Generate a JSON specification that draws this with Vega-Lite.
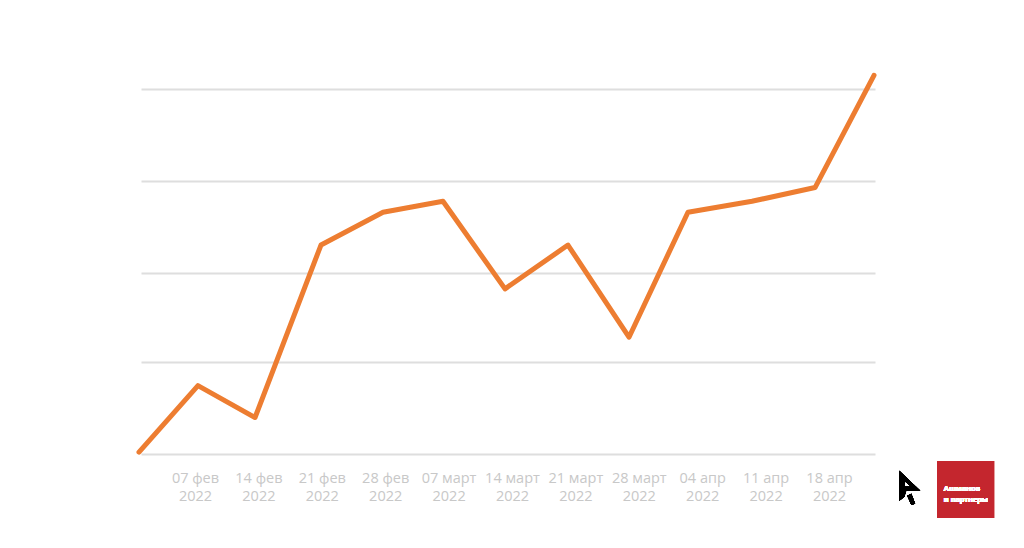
{
"$schema":"https://vega.github.io/schema/vega-lite/v6.json",
"width":734,"height":394,
"autosize":"none",
"padding":{"left":141,"top":60,"right":149,"bottom":94},
"background":"white",
"config":{"view":{"stroke":null},"font":"Open Sans"},
"data":{"values":[
{"date":"2022-01-31T22:19:00Z","value":2},
{"date":"2022-02-07T10:34:00Z","value":75},
{"date":"2022-02-13T17:46:00Z","value":40},
{"date":"2022-02-21T00:29:00Z","value":229},
{"date":"2022-02-27T20:53:00Z","value":265},
{"date":"2022-03-06T11:46:00Z","value":277},
{"date":"2022-03-13T08:10:00Z","value":181},
{"date":"2022-03-20T06:58:00Z","value":229},
{"date":"2022-03-27T00:43:00Z","value":128},
{"date":"2022-04-02T12:58:00Z","value":265},
{"date":"2022-04-09T14:38:00Z","value":277},
{"date":"2022-04-16T13:41:00Z","value":292},
{"date":"2022-04-23T01:55:00Z","value":415}
]},
"layer":[
{"mark":{"type":"line","color":"#ed7d31","strokeWidth":5,"strokeCap":"round","strokeJoin":"round","clip":false},
"encoding":{
"x":{"field":"date","type":"temporal","title":null,
"scale":{"type":"utc","domain":["2022-02-01T03:36:00Z","2022-04-23T04:34:00Z"],"nice":false},
"axis":{"values":["2022-02-07T00:00:00Z","2022-02-14T00:00:00Z","2022-02-21T00:00:00Z","2022-02-28T00:00:00Z","2022-03-07T00:00:00Z","2022-03-14T00:00:00Z","2022-03-21T00:00:00Z","2022-03-28T00:00:00Z","2022-04-04T00:00:00Z","2022-04-11T00:00:00Z","2022-04-18T00:00:00Z"],
"grid":false,"ticks":false,"domain":false,"labelColor":"#c8c8c8","labelFontSize":14.5,"labelPadding":17,"labelLineHeight":18,"labelOverlap":false,"labelFlush":false,"labelAngle":0,"labelOffset":1,
"labelExpr":"[utcFormat(datum.value,'%d')+' '+['','фев','март','апр'][utcmonth(datum.value)],'2022']"}},
"y":{"field":"value","type":"quantitative","title":null,
"scale":{"domain":[0,431.8],"nice":false,"zero":false},
"axis":{"values":[0,100.8,198.4,299,400],"grid":true,"gridColor":"#dedede","gridWidth":2,"ticks":false,"domain":false,"labels":false}}
}},
{"mark":{"type":"rect","color":"#c4262e","clip":false},
"encoding":{
"x":{"datum":{"year":2022,"month":4,"date":30,"hours":1,"utc":true},"type":"temporal"},
"x2":{"datum":{"year":2022,"month":5,"date":6,"hours":8,"utc":true}},
"y":{"datum":-7.7,"type":"quantitative"},
"y2":{"datum":-70.1}
}},
{"mark":{"type":"text","color":"white","font":"Noto Sans","fontSize":7.5,"fontWeight":600,"align":"left","baseline":"middle","lineHeight":11,"clip":false,"text":["Ашманов","и партнеры"]},
"encoding":{
"x":{"datum":{"year":2022,"month":4,"date":30,"hours":19,"utc":true},"type":"temporal"},
"y":{"datum":-38.9,"type":"quantitative"}
}},
{"mark":{"type":"point","filled":true,"color":"black","opacity":1,"size":1225,"clip":false,
"shape":"M -0.6 -0.97 L 0.6 0.17 L -0.2 0.17 L -0.31 0.51 L -0.6 0.74 Z M -0.31 -0.4 L -0.31 -0.06 L 0.09 -0.06 Z M -0.14 0.46 L 0.09 0.34 L 0.31 0.91 L 0.09 0.97 Z"},
"encoding":{
"x":{"datum":{"year":2022,"month":4,"date":27,"hours":0,"minutes":36,"utc":true},"type":"temporal"},
"y":{"datum":-37,"type":"quantitative"}
}}
]
}
